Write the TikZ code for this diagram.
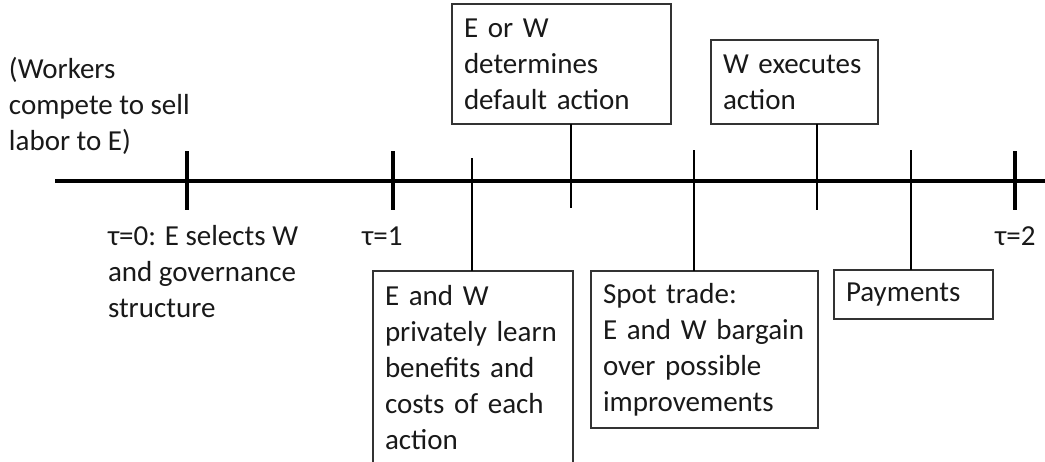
\documentclass[tikz,border=0pt]{standalone}
\usepackage{fontspec}
\setmainfont{Carlito}
\begin{document}
\begin{tikzpicture}[x=1pt,y=-1pt,
  every node/.style={font=\fontsize{29}{36}\selectfont, text=black!90},
  lbl/.style={inner sep=0pt, outer sep=0pt, anchor=north west, align=left},
  evbox/.style={draw=black!80, line width=1.4pt, inner xsep=12pt, inner ysep=0pt, outer sep=0pt, align=left, anchor=north west},
  major/.style={line width=4pt, black},
  minor/.style={line width=2.5pt, black}]
\useasboundingbox (0,0) rectangle (1045,461);
\clip (0,0) rectangle (1045,461);

% timeline
\coordinate (L) at (55,181);
\coordinate (R) at (1045,181);
\draw[major] (L) -- (R);

% major ticks
\coordinate (m0t) at (187,151); \coordinate (m0b) at (187,210);
\coordinate (m1t) at (393,151); \coordinate (m1b) at (393,210);
\coordinate (m2t) at (1015,151); \coordinate (m2b) at (1015,210);
\draw[major] (m0t) -- (m0b);
\draw[major] (m1t) -- (m1b);
\draw[major] (m2t) -- (m2b);

% boxes
\node[evbox, text width=195pt, minimum height=120pt] (b1) at (452,4) {E or W\\determines\\default action};
\node[evbox, text width=143pt, minimum height=84pt] (b2) at (711,40) {W executes\\action};
\node[evbox, text width=176pt, minimum height=194pt] (b3) at (373,271) {E and W\\privately learn\\benefits and\\costs of each\\action};
\node[evbox, text width=203pt, minimum height=157pt] (b4) at (591,271) {Spot trade:\\E and W bargain\\over possible\\improvements};
\node[evbox, text width=135pt, minimum height=49pt] (b5) at (834,270) {Payments};

% minor ticks / connectors
\coordinate (tA) at (472,158);
\coordinate (tB) at (571,208);
\coordinate (tC) at (694,150);
\coordinate (tD) at (817,210);
\coordinate (tE) at (911,150);
\draw[minor] (tA) -- (tA |- b3.north);
\draw[minor] (b1.south -| tB) -- (tB);
\draw[minor] (tC) -- (tC |- b4.north);
\draw[minor] (b2.south -| tD) -- (tD);
\draw[minor] (tE) -- (tE |- b5.north);

% labels
\node[lbl] (workers) at (9,57) {(Workers\\compete to sell\\labor to E)};
\node[lbl] (t0) at (108,225) {τ=0: E selects W\\and governance\\structure};
\node[inner sep=0pt, anchor=base west] (t1) at (362,245) {τ=1};
\node[inner sep=0pt, anchor=base west] (t2) at (995,245) {τ=2};
\end{tikzpicture}
\end{document}
